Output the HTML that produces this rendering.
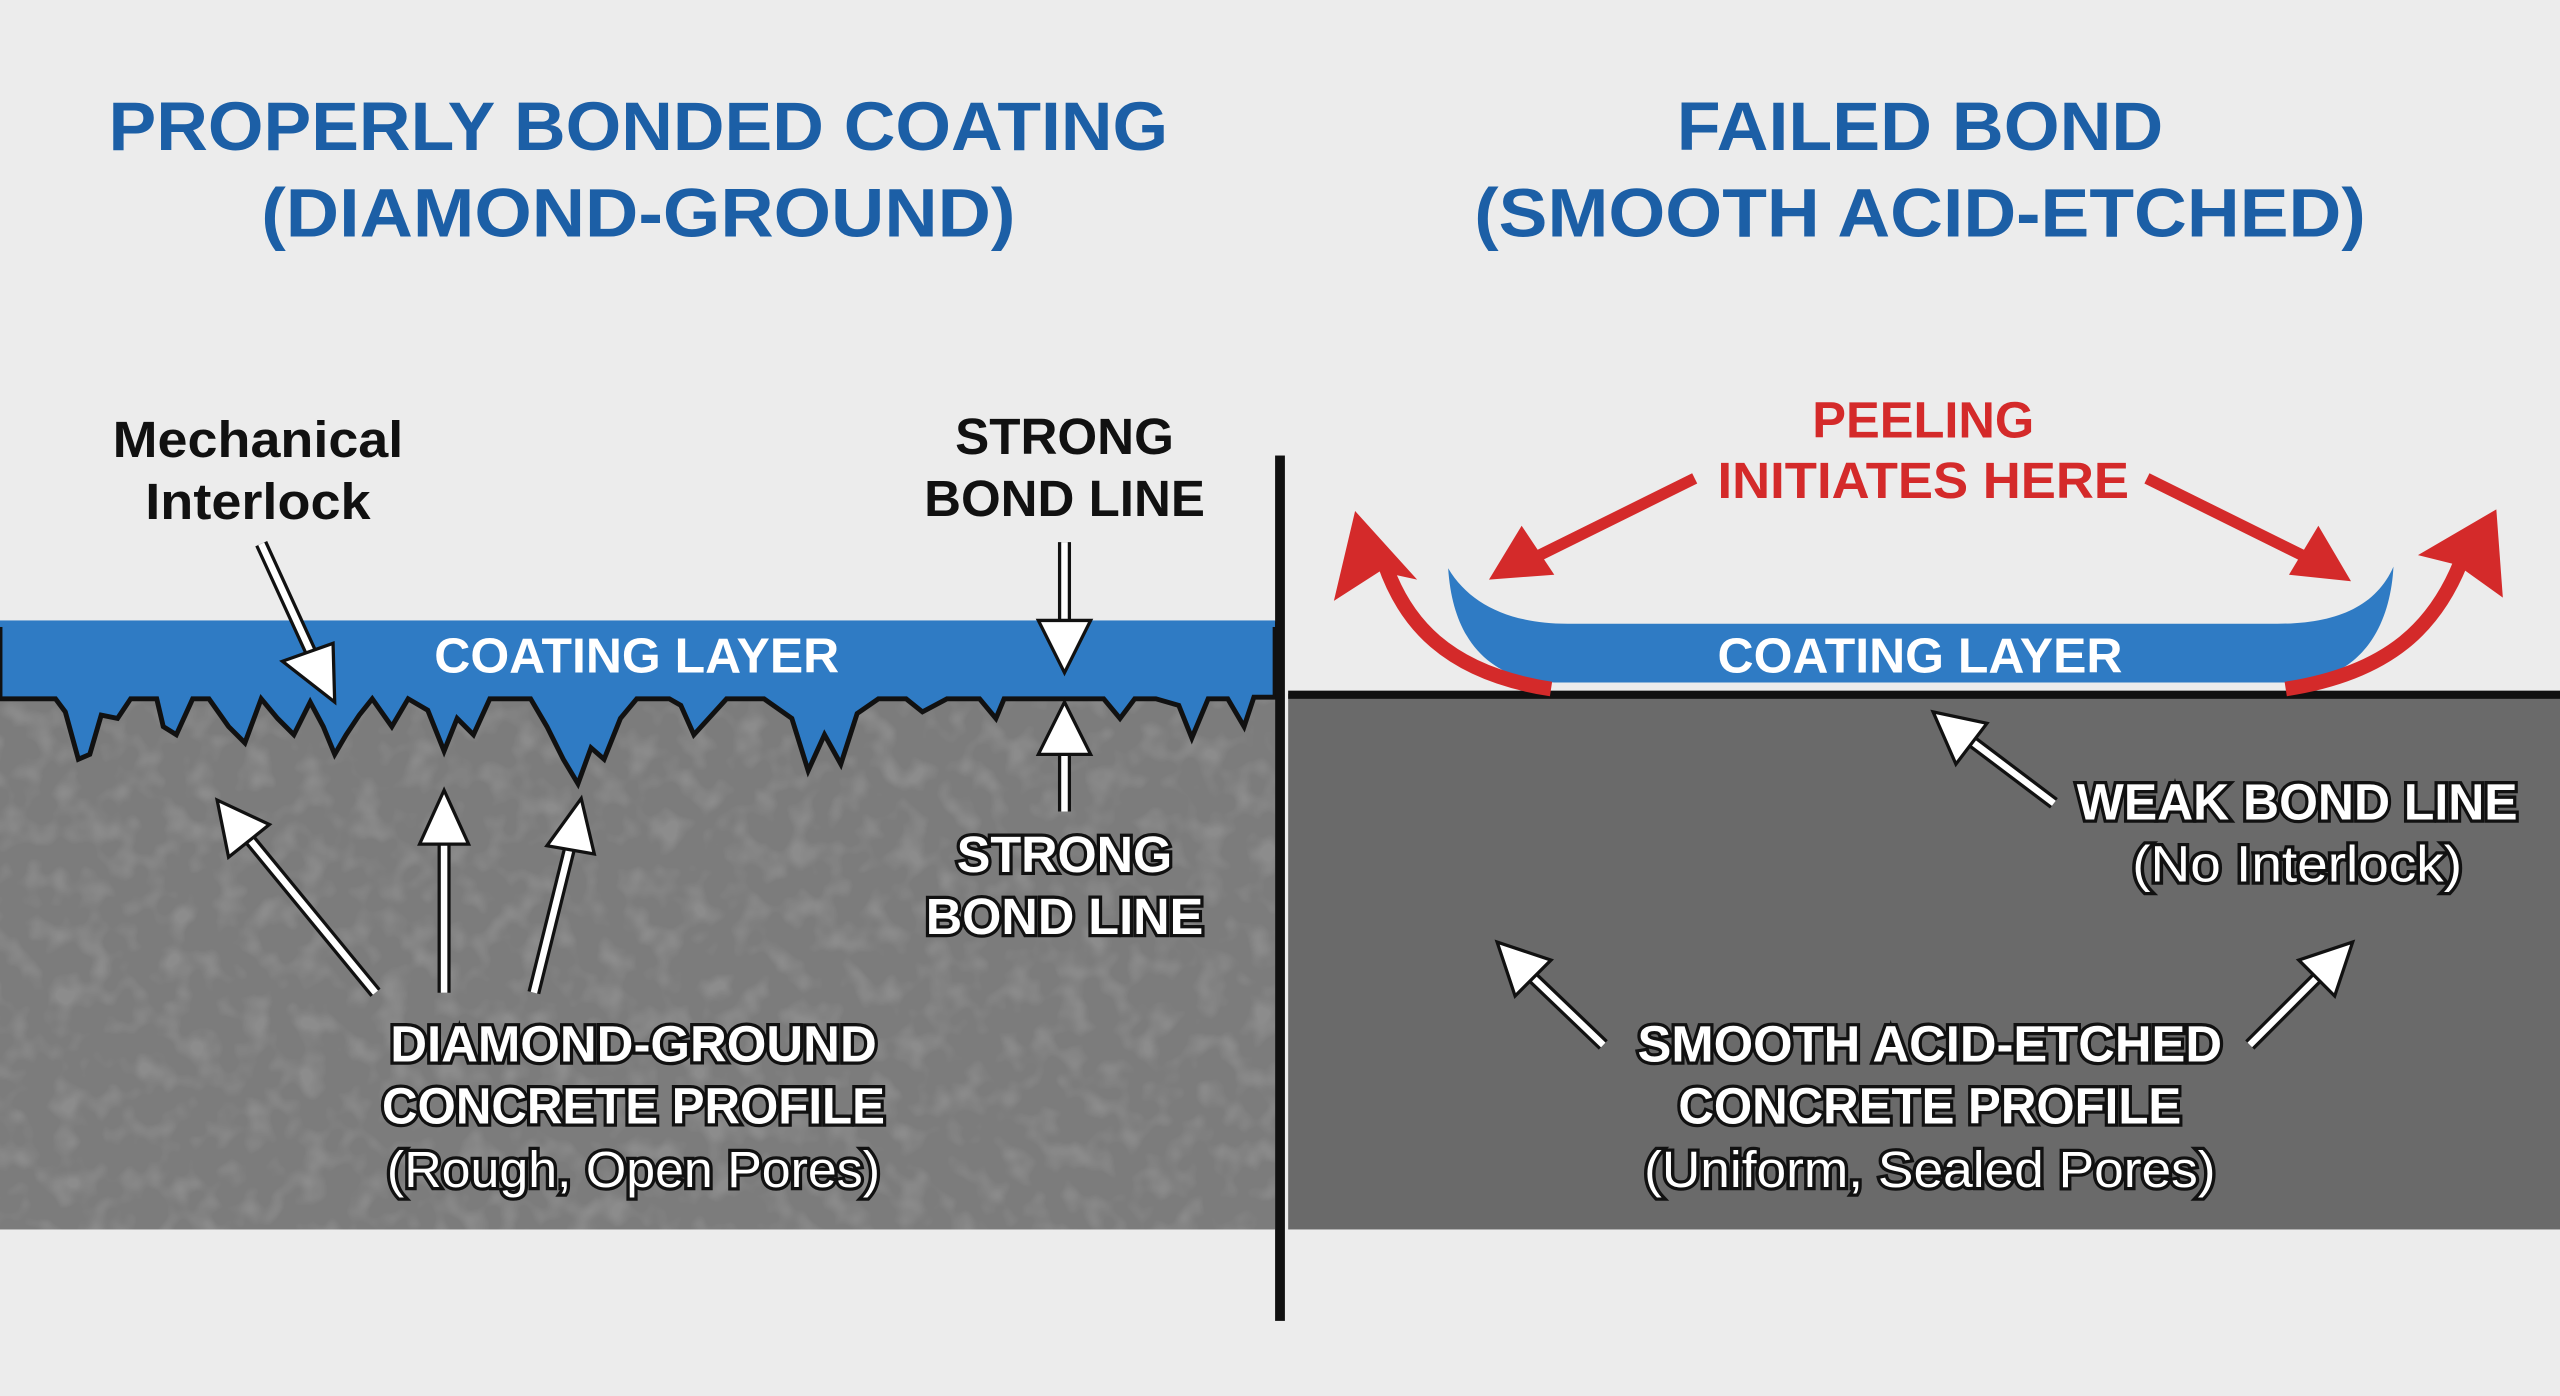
<!DOCTYPE html>
<html><head><meta charset="utf-8"><style>
html,body{margin:0;padding:0;background:#ececec;}
svg{display:block}
text{font-family:"Liberation Sans",sans-serif;font-weight:bold;text-anchor:middle}
.t{fill:#1c5fa6;font-size:42px}
.w{fill:#fff;stroke:#111;stroke-width:4px;paint-order:stroke;font-size:31px}
.n{font-weight:normal}
.k{fill:#111;font-size:31px}
.r{fill:#d42a2a;font-size:31px}
</style></head><body>
<svg width="2560" height="1396" viewBox="0 0 1568 855" preserveAspectRatio="none">
<defs>
<filter id="tex" x="0" y="0" width="1" height="1">
<feTurbulence type="fractalNoise" baseFrequency="0.06" numOctaves="2" seed="3"/>
<feColorMatrix type="matrix" values="0 0 0 0 0.40  0 0 0 0 0.40  0 0 0 0 0.40  0 0 0 -3 1.6"/>
</filter>
</defs>
<rect width="1568" height="855" fill="#ececec"/>
<!-- left concrete -->
<rect x="0" y="425" width="781" height="328" fill="#7c7c7c"/>
<rect x="0" y="425" width="781" height="328" fill="#7a7a7a" filter="url(#tex)" opacity="0.35"/>
<!-- left coating with jagged profile -->
<path d="M0,382 H781 V427 H768 L762,445 L752,428 L740,428 L730,452 L722,432 L708,428 L695,428 L686,440 L676,428 L655,428 L630,428 L615,428 L610,440 L600,428 L580,428 L565,436 L555,428 L538,428 L525,437 L515,468 L505,450 L495,472 L485,440 L468,428 L445,428 L425,450 L417,432 L410,428 L390,428 L380,440 L370,465 L362,458 L354,480 L345,465 L335,445 L325,428 L300,428 L290,450 L280,440 L272,460 L262,435 L250,428 L240,445 L228,428 L220,438 L212,450 L205,462 L198,445 L190,430 L180,450 L170,440 L160,428 L150,455 L140,445 L128,428 L118,428 L108,450 L100,445 L96,428 L80,428 L72,440 L62,438 L55,462 L48,465 L40,436 L34,428 L0,428 Z" fill="#2f7bc4" stroke="#111" stroke-width="3"/>
<rect x="0" y="380" width="781" height="4" fill="#2f7bc4"/>
<!-- right concrete -->
<rect x="789" y="425" width="779" height="328" fill="#6a6a6a"/>
<rect x="789" y="423" width="779" height="5" fill="#111"/>
<!-- divider -->
<rect x="781" y="279" width="6" height="530" fill="#111"/>
<!-- right coating -->
<path d="M887,348 C900,370 925,382 960,382 H1395 C1430,382 1455,372 1466,347 C1464,385 1445,418 1400,418 H955 C915,418 890,395 887,348 Z" fill="#2f7bc4"/>
<!-- red curved arrows -->
<path d="M950,422 C885,412 860,380 848,345" fill="none" stroke="#d42a2a" stroke-width="9"/>
<polygon points="830,313 817,368 845,350 868,355" fill="#d42a2a"/>
<path d="M1400,422 C1465,412 1492,382 1507,345" fill="none" stroke="#d42a2a" stroke-width="9"/>
<polygon points="1529,312 1481,340 1505,346 1533,366" fill="#d42a2a"/>
<!-- red straight arrows -->
<line x1="1038" y1="293" x2="935" y2="344" stroke="#d42a2a" stroke-width="7"/>
<polygon points="912,355 932,322 952,352" fill="#d42a2a"/>
<line x1="1315" y1="293" x2="1418" y2="344" stroke="#d42a2a" stroke-width="7"/>
<polygon points="1440,356 1420,322 1402,352" fill="#d42a2a"/>
<!-- white arrows -->
<g stroke-linejoin="miter">
<line x1="160" y1="333" x2="192" y2="403" stroke="#111" stroke-width="8"/><line x1="160" y1="333" x2="192" y2="403" stroke="#fff" stroke-width="4"/><polygon points="205,430 173,405 204,394" fill="#fff" stroke="#111" stroke-width="2"/>
<line x1="652" y1="332" x2="652" y2="390" stroke="#111" stroke-width="8"/><line x1="652" y1="332" x2="652" y2="390" stroke="#fff" stroke-width="4"/><polygon points="652,412 636,380 668,380" fill="#fff" stroke="#111" stroke-width="2"/>
<line x1="652" y1="497" x2="652" y2="455" stroke="#111" stroke-width="8"/><line x1="652" y1="497" x2="652" y2="455" stroke="#fff" stroke-width="4"/><polygon points="652,430 636,462 668,462" fill="#fff" stroke="#111" stroke-width="2"/>
<line x1="230" y1="608" x2="152" y2="513" stroke="#111" stroke-width="8"/><line x1="230" y1="608" x2="152" y2="513" stroke="#fff" stroke-width="4"/><polygon points="133,490 140,525 165,505" fill="#fff" stroke="#111" stroke-width="2"/>
<line x1="272" y1="608" x2="272" y2="510" stroke="#111" stroke-width="8"/><line x1="272" y1="608" x2="272" y2="510" stroke="#fff" stroke-width="4"/><polygon points="272,484 257,517 287,517" fill="#fff" stroke="#111" stroke-width="2"/>
<line x1="327" y1="608" x2="350" y2="515" stroke="#111" stroke-width="8"/><line x1="327" y1="608" x2="350" y2="515" stroke="#fff" stroke-width="4"/><polygon points="356,489 335,518 364,523" fill="#fff" stroke="#111" stroke-width="2"/>
<line x1="1258" y1="492" x2="1205" y2="452" stroke="#111" stroke-width="8"/><line x1="1258" y1="492" x2="1205" y2="452" stroke="#fff" stroke-width="4"/><polygon points="1184,436 1198,468 1217,443" fill="#fff" stroke="#111" stroke-width="2"/>
<line x1="982" y1="640" x2="935" y2="595" stroke="#111" stroke-width="8"/><line x1="982" y1="640" x2="935" y2="595" stroke="#fff" stroke-width="4"/><polygon points="917,577 928,610 950,588" fill="#fff" stroke="#111" stroke-width="2"/>
<line x1="1378" y1="640" x2="1423" y2="595" stroke="#111" stroke-width="8"/><line x1="1378" y1="640" x2="1423" y2="595" stroke="#fff" stroke-width="4"/><polygon points="1441,577 1408,588 1430,610" fill="#fff" stroke="#111" stroke-width="2"/>
</g>
<!-- titles -->
<text class="t" x="391" y="92" textLength="649" lengthAdjust="spacingAndGlyphs">PROPERLY BONDED COATING</text>
<text class="t" x="391" y="145" textLength="462" lengthAdjust="spacingAndGlyphs">(DIAMOND-GROUND)</text>
<text class="t" x="1176" y="92" textLength="298" lengthAdjust="spacingAndGlyphs">FAILED BOND</text>
<text class="t" x="1176" y="145" textLength="546" lengthAdjust="spacingAndGlyphs">(SMOOTH ACID-ETCHED)</text>
<!-- labels -->
<text class="k" x="158" y="280" textLength="178" lengthAdjust="spacingAndGlyphs">Mechanical</text>
<text class="k" x="158" y="318" textLength="138" lengthAdjust="spacingAndGlyphs">Interlock</text>
<text class="k" x="652" y="278" textLength="134" lengthAdjust="spacingAndGlyphs">STRONG</text>
<text class="k" x="652" y="316" textLength="172" lengthAdjust="spacingAndGlyphs">BOND LINE</text>
<text x="390" y="412" fill="#fff" font-size="30" textLength="248" lengthAdjust="spacingAndGlyphs">COATING LAYER</text>
<text x="1176" y="412" fill="#fff" font-size="30" textLength="248" lengthAdjust="spacingAndGlyphs">COATING LAYER</text>
<text class="w" x="652" y="534" textLength="132" lengthAdjust="spacingAndGlyphs">STRONG</text>
<text class="w" x="652" y="572" textLength="170" lengthAdjust="spacingAndGlyphs">BOND LINE</text>
<text class="w" x="388" y="650" textLength="298" lengthAdjust="spacingAndGlyphs">DIAMOND-GROUND</text>
<text class="w" x="388" y="688" textLength="308" lengthAdjust="spacingAndGlyphs">CONCRETE PROFILE</text>
<text class="w n" x="388" y="727" textLength="302" lengthAdjust="spacingAndGlyphs">(Rough, Open Pores)</text>
<text class="r" x="1178" y="268" textLength="136" lengthAdjust="spacingAndGlyphs">PEELING</text>
<text class="r" x="1178" y="305" textLength="252" lengthAdjust="spacingAndGlyphs">INITIATES HERE</text>
<text class="w" x="1407" y="502" textLength="270" lengthAdjust="spacingAndGlyphs">WEAK BOND LINE</text>
<text class="w n" x="1407" y="540" textLength="202" lengthAdjust="spacingAndGlyphs">(No Interlock)</text>
<text class="w" x="1182" y="650" textLength="358" lengthAdjust="spacingAndGlyphs">SMOOTH ACID-ETCHED</text>
<text class="w" x="1182" y="688" textLength="308" lengthAdjust="spacingAndGlyphs">CONCRETE PROFILE</text>
<text class="w n" x="1182" y="727" textLength="350" lengthAdjust="spacingAndGlyphs">(Uniform, Sealed Pores)</text>
</svg>
</body></html>
